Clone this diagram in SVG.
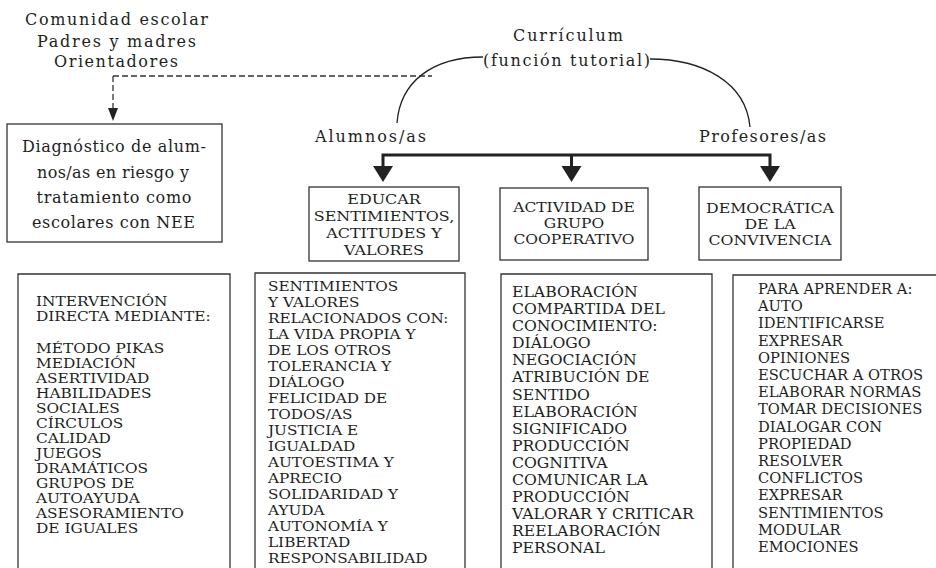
<svg xmlns="http://www.w3.org/2000/svg" width="936" height="568" viewBox="0 0 936 568">
<style>
text{font-family:"DejaVu Serif","Liberation Serif",serif;fill:#1e1e1e}
.lbl{font-size:16px}
.hd{font-size:13.5px;text-anchor:middle}
.la{font-size:12.8px}
.lb{font-size:13.5px}
.lc{font-size:14px}
.box{fill:#fff;stroke:#333;stroke-width:1.3}
.dash{fill:none;stroke:#333;stroke-width:1.3;stroke-dasharray:6 3}
.thick{fill:none;stroke:#222;stroke-width:3}
.arc{fill:none;stroke:#222;stroke-width:1.3}
.mid{text-anchor:middle}
</style>
<rect width="936" height="568" fill="#fff"/>
<g id="connectors">
<path class="dash" d="M113,76 H432 M113,76 V108"/>
<polygon points="108,108 118,108 113,121" fill="#222"/>
<path class="arc" d="M397,123 C400,82 432,57 483,57"/>
<path class="arc" d="M650,59 C702,59 746,82 750,127"/>
<path class="thick" d="M383,168 V155 H770 V168 M571.5,155 V168"/>
<polygon points="373,166 393,166 383,182" fill="#222"/>
<polygon points="561.5,166 581.5,166 571.5,182" fill="#222"/>
<polygon points="760,166 780,166 770,182" fill="#222"/>
</g>
<g id="comunidad">
<text class="lbl mid"><tspan x="116.5" y="25" textLength="183">Comunidad escolar</tspan><tspan x="116.5" y="47" textLength="159">Padres y madres</tspan><tspan x="116" y="67" textLength="124">Orientadores</tspan></text>
</g>
<g id="curriculum">
<text class="lbl mid"><tspan x="568" y="41" textLength="110">Currículum</tspan><tspan x="566.5" y="66" textLength="167">(función tutorial)</tspan></text>
</g>
<g id="alumnos"><text class="lbl mid" x="370.5" y="142" textLength="111">Alumnos/as</text></g>
<g id="profesores"><text class="lbl mid" x="762.5" y="142" textLength="127">Profesores/as</text></g>
<g id="diagnostico">
<rect class="box" x="7" y="124" width="215" height="118"/>
<text class="lbl mid"><tspan x="114" y="152" textLength="184">Diagnóstico de alum-</tspan><tspan x="113" y="177.5" textLength="152">nos/as en riesgo y</tspan><tspan x="114" y="203" textLength="155">tratamiento como</tspan><tspan x="113.5" y="228" textLength="163">escolares con NEE</tspan></text>
</g>
<g id="educar">
<rect class="box" x="309" y="187" width="150" height="74"/>
<g transform="translate(384 0) scale(1.18 1)">
<text class="hd"><tspan x="0" y="204">EDUCAR</tspan><tspan x="0" y="221">SENTIMIENTOS,</tspan><tspan x="0" y="238">ACTITUDES Y</tspan><tspan x="0" y="255">VALORES</tspan></text>
</g>
</g>
<g id="actividad">
<rect class="box" x="500" y="188" width="148" height="72"/>
<g transform="translate(574 0) scale(1.15 1)">
<text class="hd"><tspan x="0" y="212">ACTIVIDAD DE</tspan><tspan x="0" y="228">GRUPO</tspan><tspan x="0" y="244">COOPERATIVO</tspan></text>
</g>
</g>
<g id="democratica">
<rect class="box" x="699" y="187" width="142" height="73"/>
<g transform="translate(770 0) scale(1.17 1)">
<text class="hd"><tspan x="0" y="213">DEMOCRÁTICA</tspan><tspan x="0" y="229">DE LA</tspan><tspan x="0" y="245">CONVIVENCIA</tspan></text>
</g>
</g>
<g id="intervencion">
<path class="box" d="M18,575 V274 H230 V575"/>
<g transform="translate(36 0) scale(1.2 1)">
<text class="la"><tspan x="0" y="306">INTERVENCIÓN</tspan><tspan x="0" y="321">DIRECTA MEDIANTE:</tspan><tspan x="0" y="353">MÉTODO PIKAS</tspan><tspan x="0" y="368">MEDIACIÓN</tspan><tspan x="0" y="383">ASERTIVIDAD</tspan><tspan x="0" y="398">HABILIDADES</tspan><tspan x="0" y="413">SOCIALES</tspan><tspan x="0" y="428">CÍRCULOS</tspan><tspan x="0" y="443">CALIDAD</tspan><tspan x="0" y="458">JUEGOS</tspan><tspan x="0" y="473">DRAMÁTICOS</tspan><tspan x="0" y="488">GRUPOS DE</tspan><tspan x="0" y="503">AUTOAYUDA</tspan><tspan x="0" y="518">ASESORAMIENTO</tspan><tspan x="0" y="533">DE IGUALES</tspan></text>
</g>
</g>
<g id="sentimientos">
<path class="box" d="M255,575 V273 H465 V575"/>
<g transform="translate(268 0) scale(1.13 1)">
<text class="lb"><tspan x="0" y="291">SENTIMIENTOS</tspan><tspan x="0" y="307">Y VALORES</tspan><tspan x="0" y="323">RELACIONADOS CON:</tspan><tspan x="0" y="339">LA VIDA PROPIA Y</tspan><tspan x="0" y="355">DE LOS OTROS</tspan><tspan x="0" y="371">TOLERANCIA Y</tspan><tspan x="0" y="387">DIÁLOGO</tspan><tspan x="0" y="403">FELICIDAD DE</tspan><tspan x="0" y="419">TODOS/AS</tspan><tspan x="0" y="435">JUSTICIA E</tspan><tspan x="0" y="451">IGUALDAD</tspan><tspan x="0" y="467">AUTOESTIMA Y</tspan><tspan x="0" y="483">APRECIO</tspan><tspan x="0" y="499">SOLIDARIDAD Y</tspan><tspan x="0" y="515">AYUDA</tspan><tspan x="0" y="531">AUTONOMÍA Y</tspan><tspan x="0" y="547">LIBERTAD</tspan><tspan x="0" y="563">RESPONSABILIDAD</tspan></text>
</g>
</g>
<g id="elaboracion">
<path class="box" d="M501,575 V274 H712 V575"/>
<g transform="translate(512 0) scale(1.12 1)">
<text class="lc"><tspan x="0" y="297">ELABORACIÓN</tspan><tspan x="0" y="314.1">COMPARTIDA DEL</tspan><tspan x="0" y="331.2">CONOCIMIENTO:</tspan><tspan x="0" y="348.3">DIÁLOGO</tspan><tspan x="0" y="365.4">NEGOCIACIÓN</tspan><tspan x="0" y="382.5">ATRIBUCIÓN DE</tspan><tspan x="0" y="399.6">SENTIDO</tspan><tspan x="0" y="416.7">ELABORACIÓN</tspan><tspan x="0" y="433.8">SIGNIFICADO</tspan><tspan x="0" y="450.9">PRODUCCIÓN</tspan><tspan x="0" y="468">COGNITIVA</tspan><tspan x="0" y="485.1">COMUNICAR LA</tspan><tspan x="0" y="502.2">PRODUCCIÓN</tspan><tspan x="0" y="519.3">VALORAR Y CRITICAR</tspan><tspan x="0" y="536.4">REELABORACIÓN</tspan><tspan x="0" y="553.5">PERSONAL</tspan></text>
</g>
</g>
<g id="aprender">
<path class="box" d="M733,575 V275 H945"/>
<g transform="translate(758 0) scale(1.05 1)">
<text class="lc"><tspan x="0" y="294">PARA APRENDER A:</tspan><tspan x="0" y="311.2">AUTO</tspan><tspan x="0" y="328.4">IDENTIFICARSE</tspan><tspan x="0" y="345.6">EXPRESAR</tspan><tspan x="0" y="362.8">OPINIONES</tspan><tspan x="0" y="380">ESCUCHAR A OTROS</tspan><tspan x="0" y="397.2">ELABORAR NORMAS</tspan><tspan x="0" y="414.4">TOMAR DECISIONES</tspan><tspan x="0" y="431.6">DIALOGAR CON</tspan><tspan x="0" y="448.8">PROPIEDAD</tspan><tspan x="0" y="466">RESOLVER</tspan><tspan x="0" y="483.2">CONFLICTOS</tspan><tspan x="0" y="500.4">EXPRESAR</tspan><tspan x="0" y="517.6">SENTIMIENTOS</tspan><tspan x="0" y="534.8">MODULAR</tspan><tspan x="0" y="552">EMOCIONES</tspan></text>
</g>
</g>
</svg>
